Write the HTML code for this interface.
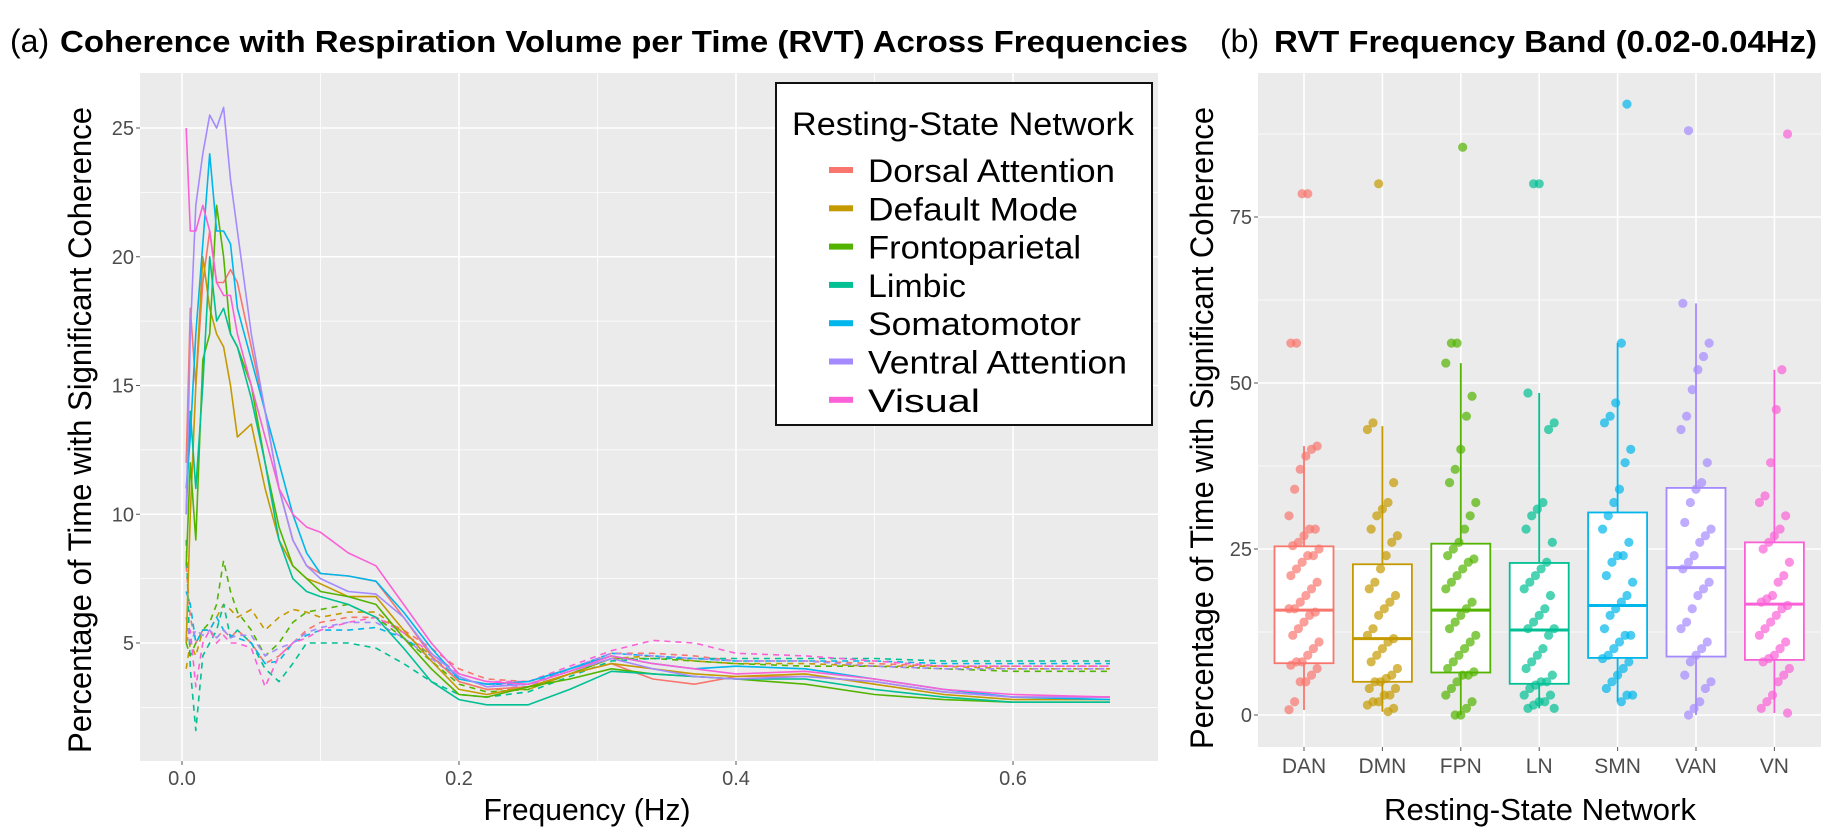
<!DOCTYPE html>
<html><head><meta charset="utf-8"><style>
html,body{margin:0;padding:0;background:#fff;}
svg{display:block;font-family:"Liberation Sans",sans-serif;}
</style></head><body>
<svg id="fig" width="1841" height="839" viewBox="0 0 1841 839" xmlns="http://www.w3.org/2000/svg">
<text x="10" y="52" font-size="32" fill="#000">(a)</text>
<text x="60" y="52" font-size="31" font-weight="bold" fill="#000" textLength="1128" lengthAdjust="spacingAndGlyphs">Coherence with Respiration Volume per Time (RVT) Across Frequencies</text>
<text x="1220" y="52" font-size="32" fill="#000">(b)</text>
<text x="1274" y="52" font-size="31" font-weight="bold" fill="#000" textLength="543" lengthAdjust="spacingAndGlyphs">RVT Frequency Band (0.02-0.04Hz)</text>
<g id="pa"></g>
<g id="pb"></g>
</svg>
<script>
const freqs=[0.003,0.006,0.01,0.015,0.02,0.025,0.03,0.035,0.04,0.05,0.06,0.07,0.08,0.09,0.1,0.12,0.14,0.16,0.18,0.2,0.22,0.25,0.28,0.31,0.34,0.37,0.4,0.45,0.5,0.55,0.6,0.67];
const networkNames=["Dorsal Attention","Default Mode","Frontoparietal","Limbic","Somatomotor","Ventral Attention","Visual"];
const networkAbbr=["DAN","DMN","FPN","LN","SMN","VAN","VN"];
const colors=["#F8766D","#C49A00","#53B400","#00C094","#00B6EB","#A58AFF","#FB61D7"];
const solidDAN=[12,18,15,19,21,19,19,19.5,19,16.5,14,11,9,8,7.7,7.6,7.4,6,4.5,3.5,3.2,3.3,3.8,4.2,3.6,3.4,3.7,3.7,3.5,3.1,2.9,2.9];
const solidDMN=[5,10,15,20,18,17,16.5,15,13,13.5,11,9,8,7.5,7.3,6.8,6.8,5.5,4.3,3.2,3.0,3.3,3.8,4.2,4.0,3.8,3.7,3.8,3.4,3.0,2.8,2.8];
const solidFPN=[8,12,9,16,17,22,20,17,16.5,15,12,9.5,8,7.5,7,6.8,6.5,5.2,4,3,2.9,3.3,3.6,4,3.8,3.7,3.6,3.4,3.0,2.8,2.7,2.7];
const solidLN=[10,14,11,15,20,17.5,18,17,16.5,14.5,12,9,7.5,7,6.8,6.5,6,4.8,3.5,2.8,2.6,2.6,3.2,3.9,3.8,3.7,3.6,3.6,3.2,2.9,2.7,2.7];
const solidSMN=[11,13,17,20.5,24,21,21,20.5,18,16,14,12,10,8.5,7.7,7.6,7.4,6.2,4.8,3.6,3.4,3.5,4,4.5,4.2,4.0,4.1,4.0,3.6,3.2,2.9,2.8];
const solidVAN=[10,17,22,24,25.5,25,25.8,23,21,17,14,11,9,8,7.5,7,6.9,6,4.6,3.7,3.3,3.4,3.9,4.4,4.0,3.7,3.6,3.7,3.5,3.1,2.9,2.9];
const solidVN=[25,21,21,22,21,19,18.5,18.5,17,15,13,11,10,9.5,9.3,8.5,8,6.5,5,3.8,3.5,3.4,3.9,4.5,4.2,4.0,3.8,3.9,3.6,3.2,3.0,2.9];
const nullDAN=[8,6,5,5.5,5.5,5.2,5.5,5.2,5.5,5,4.2,4.5,5,5.5,5.8,6,6,5.5,4.8,4,3.6,3.5,4,4.6,4.6,4.5,4.3,4.3,4.2,4.1,4.1,4.1];
const nullDMN=[4,5,4.5,5.5,5.5,6,6.5,6.3,6,6.3,5.5,6,6.3,6.2,6,6.2,6.2,5.4,4.5,3.5,3.2,3.2,3.8,4.4,4.5,4.3,4.2,4.2,4.1,4.1,4.0,4.0];
const nullFPN=[5,4.5,5,5.5,5.8,6.5,8.2,7,6.2,5.5,4.5,5,5.8,6.2,6.3,6.5,6,5.2,4.3,3.4,3.1,3.2,3.8,4.4,4.4,4.3,4.2,4.1,4.1,4.0,3.9,3.9];
const nullLN=[9,4,1.6,4.5,5,5.5,6.5,5.2,5.5,5,4,3.5,4.2,5,5,5,4.8,4.2,3.5,3,2.9,3.1,3.7,4.3,4.4,4.4,4.4,4.4,4.4,4.3,4.3,4.3];
const nullSMN=[7,6.5,5,5.5,5.5,6,5.5,5.3,5.2,5,4.2,4.3,5,5.3,5.5,5.5,5.6,5.2,4.5,3.6,3.4,3.4,4,4.6,4.5,4.4,4.3,4.3,4.3,4.2,4.2,4.2];
const nullVAN=[6,5,5.5,5.3,5.5,5.2,5.5,5.2,5.3,5.3,4.5,4.8,5,5.4,5.6,5.8,5.8,5.2,4.4,3.6,3.4,3.3,4,4.6,4.5,4.4,4.3,4.3,4.1,4.0,4.0,4.0];
const nullVN=[5,5.5,3.3,5,5.5,5,5.3,5,5,4.8,3.3,4.5,5,5.2,5.5,5.8,6,5.4,4.6,3.8,3.5,3.5,4.1,4.7,5.1,5.0,4.6,4.5,4.3,4.1,4.1,4.1];
const xTicksA=["0.0","0.2","0.4","0.6"];
const yTicksA=["5","10","15","20","25"];
// panel b
const q1=[7.8,5.0,6.4,4.7,8.6,8.8,8.3];
const med=[15.8,11.5,15.8,12.8,16.5,22.2,16.7];
const q3=[25.4,22.7,25.8,22.9,30.5,34.2,26.0];
const whiskLo=[0.75,0.5,0,1,2,0,0.3];
const whiskHi=[40.5,43.5,53,48.5,56,62,52];
const ptsDAN=[0.8,2,5,5,6,7,7.5,8,8,9,10,11,12,13,14,15,15.5,16,16,17,18,19,20,21,22,23,24,24,25,25.5,26,27,28,28,30,34,37,39,40,40.5,56,56,78.5,78.5];
const ptsDMN=[0.5,1,1.5,2,2,3,3,4,4,5,5,5.5,6,7,8,9,10,11,11.5,12,13,15,16,17,18,19,20,22,24,26,27,28,30,31,32,35,43,44,80];
const ptsFPN=[0,0,1,2,3,4,5,6,6,6.5,7,8,9,10,11,12,13,14,15,16,17,19,20,21,22,23,23.5,24,25,26,28,30,32,35,37,40,45,48,53,56,56,85.5];
const ptsLN=[1,1,1.5,2,2,3,3,4,4.5,5,5,6,7,8,9,10,12,13,13,14,15,16,18,19,20,21,22,23,26,28,30,31,32,43,44,48.5,80,80];
const ptsSMN=[2,3,3,4,5,6,7,8,8.5,9,10,11,12,12,13,15,16,17,18,20,21,23,24,24,26,28,30,32,34,38,40,44,45,47,56,92];
const ptsVAN=[0,1,2,4,5,6,8,9,10,11,13,14,16,18,19,20,22,23,24,26,27,28,29,32,34,35,38,43,45,49,52,54,56,62,88];
const ptsVN=[0.3,1,2,3,5,6,7,8,8.5,9,10,11,12,13,14,15,16,16.5,17,17.5,18,20,21,23,25,26,27,28,30,32,33,38,46,52,87.5];
const yTicksB=["0","25","50","75"];

const NS="http://www.w3.org/2000/svg";
function mk(parent,tag,attrs){const e=document.createElementNS(NS,tag);for(const k in attrs)e.setAttribute(k,attrs[k]);parent.appendChild(e);return e;}

// ---------- Panel A ----------
const pa=document.getElementById('pa');
const A={l:140,r:1158,t:73,b:761};
const xA=f=>182+(f-0)*(1013-182)/0.6;
const yA=v=>643-(v-5)*25.75;
let bg=mk(pa,'rect',{x:A.l,y:A.t,width:A.r-A.l,height:A.b-A.t,fill:'#EBEBEB'});


[0.1,0.3,0.5].forEach(f=>{const g=mk(pa,'line',{x1:xA(f),x2:xA(f),y1:A.t,y2:A.b,stroke:'#fff','stroke-width':0.8});});
[2.5,7.5,12.5,17.5,22.5].forEach(v=>{const g=mk(pa,'line',{x1:A.l,x2:A.r,y1:yA(v),y2:yA(v),stroke:'#fff','stroke-width':0.8});});
xTicksA.forEach(t=>{const f=parseFloat(t);const g=mk(pa,'line',{x1:xA(f),x2:xA(f),y1:A.t,y2:A.b,stroke:'#fff','stroke-width':1.6});
 const tk=mk(pa,'line',{x1:xA(f),x2:xA(f),y1:A.b,y2:A.b+4,stroke:'#555','stroke-width':1});
 const tx=mk(pa,'text',{x:xA(f),y:A.b+24,'font-size':20,fill:'#4D4D4D','text-anchor':'middle'});tx.textContent=t;});
yTicksA.forEach(t=>{const v=parseFloat(t);const g=mk(pa,'line',{x1:A.l,x2:A.r,y1:yA(v),y2:yA(v),stroke:'#fff','stroke-width':1.6});
 const tk=mk(pa,'line',{x1:A.l-4,x2:A.l,y1:yA(v),y2:yA(v),stroke:'#555','stroke-width':1});
 const tx=mk(pa,'text',{x:A.l-6,y:yA(v)+7,'font-size':20,fill:'#4D4D4D','text-anchor':'end'});tx.textContent=t;});
const solids=[solidDAN,solidDMN,solidFPN,solidLN,solidSMN,solidVAN,solidVN];
const nulls=[nullDAN,nullDMN,nullFPN,nullLN,nullSMN,nullVAN,nullVN];
function pts(arr){return arr.map((v,i)=>xA(freqs[i]).toFixed(1)+','+yA(v).toFixed(1)).join(' ');}
nulls.forEach((s,i)=>{const p=mk(pa,'polyline',{points:pts(s),fill:'none',stroke:colors[i],'stroke-width':1.6,'stroke-dasharray':'6,5','stroke-linejoin':'round'});});
solids.forEach((s,i)=>{const p=mk(pa,'polyline',{points:pts(s),fill:'none',stroke:colors[i],'stroke-width':1.6,'stroke-linejoin':'round'});});
let yt=mk(pa,'text',{x:0,y:0,'font-size':32,fill:'#000','text-anchor':'middle',transform:'translate(91,430) rotate(-90)',textLength:646,lengthAdjust:'spacingAndGlyphs'});
yt.textContent='Percentage of Time with Significant Coherence';


let xt=mk(pa,'text',{x:587,y:820,'font-size':31,fill:'#000','text-anchor':'middle',textLength:207,lengthAdjust:'spacingAndGlyphs'});
xt.textContent='Frequency (Hz)';


// legend
const lg=mk(pa,'g',{});


mk(lg,'rect',{x:776,y:83,width:376,height:342,fill:'#fff',stroke:'#111','stroke-width':2});
let lt=mk(lg,'text',{x:792,y:135,'font-size':32,fill:'#000',textLength:342,lengthAdjust:'spacingAndGlyphs'});
lt.textContent='Resting-State Network';


const lens=[247,210,213,98,213,259,112];
networkNames.forEach((n,i)=>{const cy=170+i*38.3;const g=mk(lg,'g',{});
 
 
 mk(g,'rect',{x:829,y:cy-3,width:24,height:6,fill:colors[i]});
 const t=mk(g,'text',{x:868,y:cy+12,'font-size':32,fill:'#000',textLength:lens[i],lengthAdjust:'spacingAndGlyphs'});t.textContent=n;});

// ---------- Panel B ----------
const pb=document.getElementById('pb');
const B={l:1258,r:1821,t:73,b:747};
const step=78.4;
const xB=i=>1304+i*step;
const yB=v=>715-v*6.64;
let bgb=mk(pb,'rect',{x:B.l,y:B.t,width:B.r-B.l,height:B.b-B.t,fill:'#EBEBEB'});


[12.5,37.5,62.5,87.5].forEach(v=>{const g=mk(pb,'line',{x1:B.l,x2:B.r,y1:yB(v),y2:yB(v),stroke:'#fff','stroke-width':0.8});});
yTicksB.forEach(t=>{const v=parseFloat(t);const g=mk(pb,'line',{x1:B.l,x2:B.r,y1:yB(v),y2:yB(v),stroke:'#fff','stroke-width':1.6});
 const tk=mk(pb,'line',{x1:B.l-4,x2:B.l,y1:yB(v),y2:yB(v),stroke:'#555','stroke-width':1});
 const tx=mk(pb,'text',{x:B.l-6,y:yB(v)+7,'font-size':20,fill:'#4D4D4D','text-anchor':'end'});tx.textContent=t;});
networkAbbr.forEach((a,i)=>{const g=mk(pb,'line',{x1:xB(i),x2:xB(i),y1:B.t,y2:B.b,stroke:'#fff','stroke-width':1.6});
 const tk=mk(pb,'line',{x1:xB(i),x2:xB(i),y1:B.b,y2:B.b+4,stroke:'#555','stroke-width':1});
 const tx=mk(pb,'text',{x:xB(i),y:B.b+26,'font-size':21,fill:'#4D4D4D','text-anchor':'middle'});tx.textContent=a;});
const groups=[ptsDAN,ptsDMN,ptsFPN,ptsLN,ptsSMN,ptsVAN,ptsVN];
const bw=59;
groups.forEach((g,i)=>{const c=colors[i],x=xB(i);
 const gr=mk(pb,'g',{});
 
 
 mk(gr,'line',{x1:x,x2:x,y1:yB(whiskHi[i]),y2:yB(q3[i]),stroke:c,'stroke-width':1.8});
 mk(gr,'line',{x1:x,x2:x,y1:yB(q1[i]),y2:yB(whiskLo[i]),stroke:c,'stroke-width':1.8});
 mk(gr,'rect',{x:x-bw/2,y:yB(q3[i]),width:bw,height:yB(q1[i])-yB(q3[i]),fill:'#fff',stroke:c,'stroke-width':1.8});
 mk(gr,'line',{x1:x-bw/2,x2:x+bw/2,y1:yB(med[i]),y2:yB(med[i]),stroke:c,'stroke-width':3});
 g.forEach((v,k)=>{const j=(((k*37+i*11)%17)-8)/8*15;
  const d=mk(gr,'circle',{cx:x+j,cy:yB(v),r:4.6,fill:c,'fill-opacity':0.7});
  
  });
});
let ytb=mk(pb,'text',{x:0,y:0,'font-size':32,fill:'#000','text-anchor':'middle',transform:'translate(1213,428) rotate(-90)',textLength:642,lengthAdjust:'spacingAndGlyphs'});
ytb.textContent='Percentage of Time with Significant Coherence';


let xtb=mk(pb,'text',{x:1540,y:820,'font-size':31,fill:'#000','text-anchor':'middle',textLength:312,lengthAdjust:'spacingAndGlyphs'});
xtb.textContent='Resting-State Network';


</script>
</body></html>
